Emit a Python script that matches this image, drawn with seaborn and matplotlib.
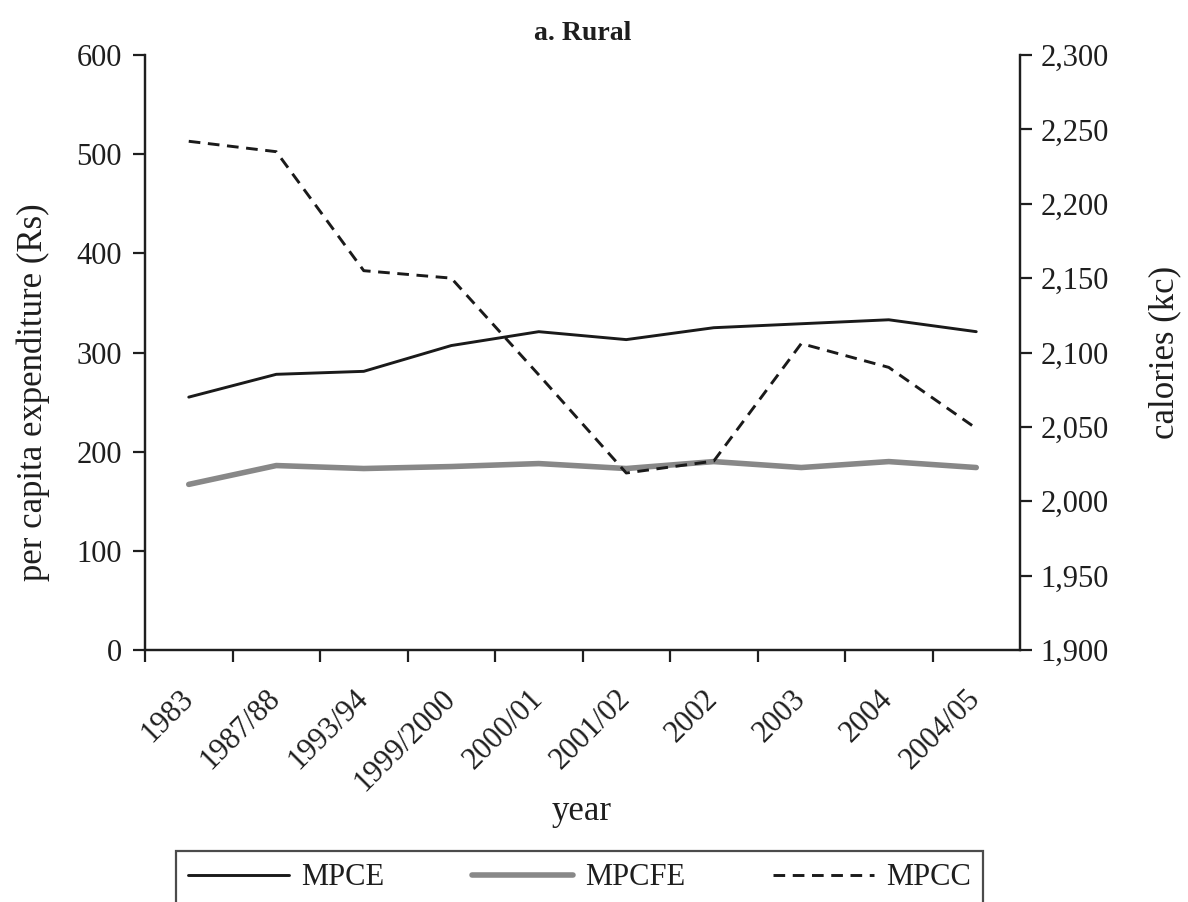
import matplotlib
matplotlib.use("Agg")
import matplotlib.pyplot as plt
import seaborn as sns
import pandas as pd

# survey rounds (categorical x axis)
years = ["1983", "1987/88", "1993/94", "1999/2000", "2000/01",
         "2001/02", "2002", "2003", "2004", "2004/05"]
# monthly per capita expenditure, Rs (left axis)
mpce = [255, 278, 281, 307, 321, 313, 325, 329, 333, 321]
# monthly per capita food expenditure, Rs (left axis)
mpcfe = [167, 186, 183, 185, 188, 183, 190, 184, 190, 184]
# per capita calorie consumption, kc (right axis)
mpcc = [2242, 2235, 2155, 2150, 2085, 2019, 2027, 2106, 2090, 2049]

left_ticks = [0, 100, 200, 300, 400, 500, 600]
right_ticks = [1900, 1950, 2000, 2050, 2100, 2150, 2200, 2250, 2300]

sns.set_style("ticks")
plt.rcParams['font.family'] = ['Liberation Serif', 'DejaVu Serif']
ink = "#1e1e1e"
plt.rcParams['text.color'] = ink
plt.rcParams['axes.edgecolor'] = ink
plt.rcParams['xtick.color'] = ink
plt.rcParams['ytick.color'] = ink

df = pd.DataFrame({"pos": range(len(years)), "year": years,
                   "MPCE": mpce, "MPCFE": mpcfe, "MPCC": mpcc})

fig = plt.figure(figsize=(11.88, 9.02), dpi=100)
ax = fig.add_axes([145 / 1188, 1 - 650 / 902, 875 / 1188, 595 / 902])
ax2 = ax.twinx()

sns.lineplot(data=df, x="pos", y="MPCE", ax=ax, color="#1a1a1a", lw=2.1, label="MPCE", legend=False)
sns.lineplot(data=df, x="pos", y="MPCFE", ax=ax, color="#888888", lw=4.0, label="MPCFE", legend=False)
sns.lineplot(data=df, x="pos", y="MPCC", ax=ax2, color="#1a1a1a", lw=2.1, label="MPCC", legend=False,
             linestyle=(0, (4, 2.6)))

fs = 22     # tick / legend text
lfs = 25    # axis labels
ax.set_xlim(-0.5, 9.5)
ax.set_ylim(0, 600)
ax2.set_ylim(1900, 2300)

ax.set_xticks(range(len(years)))
ax.set_xticklabels(years, rotation=45, ha="right", va="center", rotation_mode="anchor", fontsize=fs)
ax.set_xticks([i - 0.5 for i in range(len(years))], minor=True)
ax.tick_params(axis="x", which="major", length=0, pad=32)
ax.tick_params(axis="x", which="minor", length=12 * 0.72, width=1.6, direction="out")

ax.set_yticks(left_ticks)
ax.set_yticklabels([str(v) for v in left_ticks], fontsize=fs)
ax.tick_params(axis="y", length=12 * 0.72, width=1.6, direction="out", pad=8)
ax2.set_yticks(right_ticks)
ax2.set_yticklabels([f"{v:,}" for v in right_ticks], fontsize=fs)
ax2.tick_params(axis="y", length=12 * 0.72, width=1.6, direction="out", pad=6)

ax.set_xlabel("")
ax.set_ylabel("")
ax2.set_ylabel("")
for a in (ax, ax2):
    a.spines["top"].set_visible(False)
    for s in ("left", "right", "bottom"):
        a.spines[s].set_linewidth(1.6)

fig.text(583 / 1188, 1 - 33 / 902, "a. Rural", ha="center", va="center", fontsize=20, fontweight="bold")
fig.text(33 / 1188, 1 - 392 / 902, "per capita expenditure (Rs)", rotation=90, ha="center", va="center", fontsize=lfs)
fig.text(1165 / 1188, 1 - 352 / 902, "calories (kc)", rotation=90, ha="center", va="center", fontsize=lfs)
fig.text(582 / 1188, 1 - 812 / 902, "year", ha="center", va="center", fontsize=lfs)

handles = ax.get_lines()[:2] + ax2.get_lines()[:1]
leg = fig.legend(handles, ["MPCE", "MPCFE", "MPCC"], loc="upper left",
                 bbox_to_anchor=(176 / 1188, 0.0, 807 / 1188, 1 - 851 / 902),
                 mode="expand", ncol=3, fontsize=fs, frameon=True, fancybox=False,
                 edgecolor=ink, handlelength=3.3, handletextpad=0.4, borderaxespad=0)
leg.get_frame().set_linewidth(1.6)

fig.savefig("out.png", dpi=100)
